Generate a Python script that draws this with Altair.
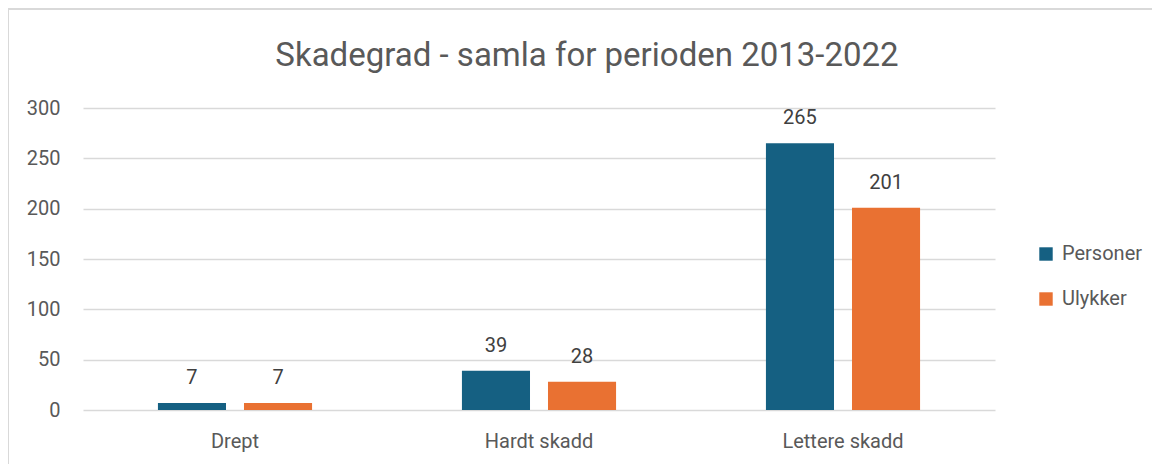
import altair as alt
import pandas as pd

categories = ["Drept", "Hardt skadd", "Lettere skadd"]
series = ["Personer", "Ulykker"]
personer = [7, 39, 265]
ulykker = [7, 28, 201]
colors = ["#156082", "#E97132"]

rows = []
for c, p, u in zip(categories, personer, ulykker):
    rows.append({"kategori": c, "serie": "Personer", "verdi": p})
    rows.append({"kategori": c, "serie": "Ulykker", "verdi": u})
df = pd.DataFrame(rows)

FONT = "Roboto"
GREY = "#595959"

x = alt.X("kategori:N", sort=categories, title=None,
          scale=alt.Scale(paddingInner=0.493, paddingOuter=0.2465),
          axis=alt.Axis(labelAngle=0, labelFontSize=20, labelColor=GREY, labelFont=FONT,
                        ticks=False, domain=False, labelPadding=21))
xo = alt.XOffset("serie:N", sort=series, scale=alt.Scale(paddingInner=0.209, paddingOuter=0))
y = alt.Y("verdi:Q", title=None,
          scale=alt.Scale(domain=[0, 300], nice=False),
          axis=alt.Axis(values=[0, 50, 100, 150, 200, 250, 300], labelFontSize=20,
                        labelColor=GREY, labelFont=FONT, ticks=False, domain=False,
                        labelPadding=23, gridColor="#d9d9d9", gridWidth=1.5))

bars = alt.Chart(df).mark_bar().encode(
    x=x, xOffset=xo, y=y,
    color=alt.Color("serie:N", sort=series,
                    scale=alt.Scale(domain=series, range=colors),
                    legend=alt.Legend(title=None, orient="none", legendX=953, legendY=136,
                                      labelFontSize=20, labelColor=GREY, labelFont=FONT,
                                      symbolType="square", symbolSize=180, symbolStrokeWidth=0,
                                      rowPadding=25, labelOffset=6)),
)

labels = alt.Chart(df).mark_text(baseline="alphabetic", dy=-19, fontSize=20, font=FONT,
                                 color="#404040").encode(
    x=alt.X("kategori:N", sort=categories),
    xOffset=alt.XOffset("serie:N", sort=series),
    y="verdi:Q",
    text="verdi:Q",
)

frame = alt.Chart(df).mark_rect(fill=None, stroke="#d9d9d9", strokeWidth=2).encode(
    x=alt.value(-75), x2=alt.value(1100), y=alt.value(-99), y2=alt.value(440)
)

chart = alt.layer(frame, bars, labels).properties(
    width=912, height=302,
    title=alt.TitleParams("Skadegrad - samla for perioden 2013-2022", fontSize=33,
                          font=FONT, fontWeight="normal", color=GREY, anchor="middle",
                          dx=48, dy=45, offset=-20),
    autosize=alt.AutoSizeParams(type="none"),
    padding={"left": 75, "top": 100, "right": 157, "bottom": 54},
).configure_view(stroke=None)

chart.save("out.html", embed_options={"renderer": "svg", "actions": False})
